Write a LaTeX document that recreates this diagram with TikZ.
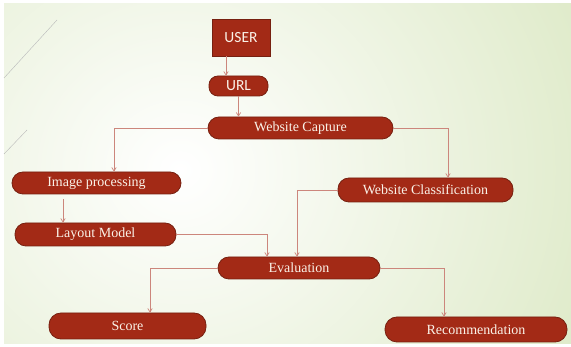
\documentclass[tikz,border=0pt]{standalone}
\usepackage{fontspec}
\setmainfont{Liberation Serif}
\newfontfamily\boxfont{Carlito}
\usepackage{xcolor}
\usepackage{tikz}
\usetikzlibrary{arrows.meta,positioning,calc}
\definecolor{cvfill}{RGB}{163,42,22}
\definecolor{cvline}{RGB}{118,32,16}
\definecolor{cvtext}{RGB}{250,242,232}
\definecolor{cvarrow}{RGB}{204,134,124}
\definecolor{cvbg}{RGB}{222,234,200}

\begin{document}
\begin{tikzpicture}[x=1pt,y=-1pt,
  pill/.style={draw=cvline,line width=0.8pt,fill=cvfill,text=cvtext,rounded corners=11pt,
               inner sep=0pt,minimum height=23pt,font=\fontsize{14}{16}\selectfont},
  sqbox/.style={draw=cvline,line width=0.8pt,fill=cvfill,text=cvtext,inner sep=0pt,
                font=\boxfont\fontsize{15.5}{18}\selectfont},
  dep/.style={-{Straight Barb[length=3.5pt,width=4.5pt]},draw=cvarrow,line width=0.7pt}
]
\useasboundingbox (0,0) rectangle (571,347);
\fill[white] (0,0) rectangle (571,347);
\begin{scope}
  \clip (4,4) rectangle (571,344);
  \shade[inner color=white,outer color=cvbg] (-270,-250) rectangle (630,590);
\end{scope}
\draw[gray!55,line width=0.4pt] (4,78) -- (57,20);
\draw[gray!55,line width=0.4pt] (4,154) -- (27,130);

\node[sqbox,minimum width=58pt,minimum height=37pt] (user) at (241,37.5) {USER};
\node[sqbox,rounded corners=9pt,minimum width=59pt,minimum height=20pt] (url) at (238.5,86) {URL};
\node[pill,minimum width=185pt,minimum height=22pt] (capture) at (300.5,128) {Website Capture};
\node[pill,minimum width=169pt,minimum height=22pt] (imgproc) at (96.5,183) {Image processing};
\node[pill,minimum width=175pt,minimum height=24pt] (classif) at (425.5,190) {Website Classification};
\node[pill,minimum width=161pt] (layout) at (95.5,234.5) {Layout Model};
\node[pill,minimum width=162pt,minimum height=22pt] (evaluation) at (299,268) {Evaluation};
\node[pill,minimum width=157pt,minimum height=26pt,rounded corners=12pt] (score) at (127.5,326) {Score};
\node[pill,minimum width=182pt,minimum height=25pt,rounded corners=12pt] (recommend) at (476,329.5) {Recommendation};

\draw[dep] ([xshift=-15pt]user.south) -- ([xshift=-12.5pt]url.north);
\draw[dep] (url.south) -- (url.south |- capture.north);
\draw[dep] (capture.west) -| ([xshift=17.5pt]imgproc.north);
\draw[dep] (capture.east) -| ([xshift=22.5pt]classif.north);
\draw[dep] ([xshift=-33.5pt,yshift=-5pt]imgproc.south) -- ([xshift=-32.5pt]layout.north);
\draw[dep] (layout.east) -| ([xshift=-32pt]evaluation.north);
\draw[dep] (classif.west) -| ([xshift=-2pt]evaluation.north);
\draw[dep] (evaluation.west) -| ([xshift=22.5pt]score.north);
\draw[dep] (evaluation.east) -| ([xshift=-32pt]recommend.north);
\end{tikzpicture}
\end{document}
